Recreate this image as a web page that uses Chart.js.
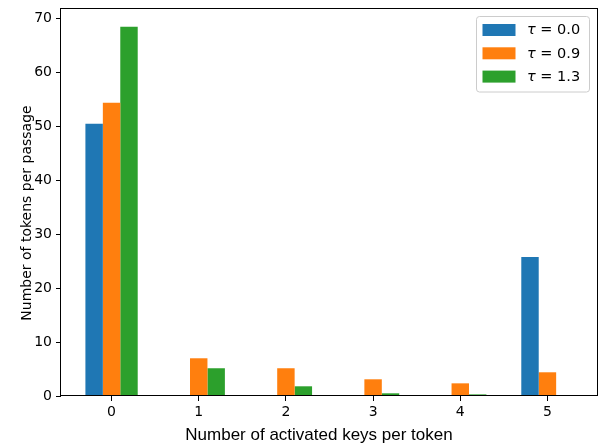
<!DOCTYPE html>
<html>
<head>
<meta charset="utf-8">
<style>
  html, body { margin: 0; padding: 0; background: #fff; }
  #wrap { width: 599px; height: 444px; position: relative; }
</style>
<script src="https://cdn.jsdelivr.net/npm/chart.js@4.4.1/dist/chart.umd.min.js"></script>
</head>
<body>
<div id="wrap"><canvas id="c" width="599" height="444"></canvas></div>
<script>
// Number of activated keys per token (x positions)
const categories = [0, 1, 2, 3, 4, 5];
// Tokens per passage for each temperature
const tau00 = [50.5, 0.15, 0.15, 0.15, 0.15, 25.8];
const tau09 = [54.4, 7.0, 5.15, 3.1, 2.35, 4.4];
const tau13 = [68.5, 5.15, 1.8, 0.5, 0.3, 0.12];
const seriesLabels = ['τ = 0.0', 'τ = 0.9', 'τ = 1.3'];
const seriesColors = ['#1f77b4', '#ff7f0e', '#2ca02c'];
const yTicks = [0, 10, 20, 30, 40, 50, 60, 70];
const xTitle = 'Number of activated keys per token';
const yTitle = 'Number of tokens per passage';

const tickFont = { family: 'DejaVu Sans', size: 14 };

function toPoints(vals) {
  return categories.map((c, i) => ({ x: c, y: vals[i] }));
}

// Frame around the plot area, the axis titles and a boxed legend
const framePlugin = {
  id: 'frame',
  afterDatasetsDraw(chart) {
    const { ctx, chartArea: a } = chart;
    ctx.save();
    ctx.strokeStyle = '#000';
    ctx.lineWidth = 1;
    ctx.strokeRect(Math.round(a.left) - 0.5, Math.round(a.top) + 0.5,
                   Math.round(a.right - a.left), Math.round(a.bottom - a.top) - 1);
    ctx.restore();
  },
  afterDraw(chart) {
    const { ctx, chartArea: a } = chart;
    ctx.save();
    // axis titles
    ctx.fillStyle = '#000';
    ctx.textAlign = 'center';
    ctx.textBaseline = 'alphabetic';
    ctx.font = '17px "Liberation Sans"';
    ctx.fillText(xTitle, 319, 440);
    ctx.save();
    ctx.translate(31, 213);
    ctx.rotate(-Math.PI / 2);
    ctx.font = '14px "DejaVu Sans"';
    ctx.fillText(yTitle, 0, 0);
    ctx.restore();

    // legend
    const boxW = 113, rowH = 23.3;
    const x0 = a.right - 8.5 - boxW, y0 = a.top + 8.5;
    const boxH = 75.5;
    ctx.fillStyle = 'rgba(255,255,255,0.8)';
    ctx.strokeStyle = '#cccccc';
    ctx.lineWidth = 1;
    ctx.beginPath();
    ctx.roundRect(x0, y0, boxW, boxH, 3);
    ctx.fill();
    ctx.stroke();
    ctx.textAlign = 'left';
    chart.data.datasets.forEach((ds, i) => {
      const cy = y0 + 13.5 + i * rowH;
      ctx.fillStyle = ds.backgroundColor;
      ctx.fillRect(x0 + 6, cy - 6, 33, 12);
      const lab = ds.label;
      ctx.fillStyle = '#000';
      ctx.textBaseline = 'middle';
      ctx.font = 'italic 14.5px "DejaVu Sans"';
      const tx = x0 + 50.5;
      ctx.fillText(lab[0], tx, cy + 0.5);
      const w = ctx.measureText(lab[0]).width;
      ctx.font = '14.5px "DejaVu Sans"';
      ctx.fillText(lab.slice(1), tx + w, cy + 0.5);
    });
    ctx.restore();
  }
};

new Chart(document.getElementById('c'), {
  type: 'bar',
  data: {
    datasets: [
      { label: seriesLabels[0], data: toPoints(tau00), backgroundColor: seriesColors[0] },
      { label: seriesLabels[1], data: toPoints(tau09), backgroundColor: seriesColors[1] },
      { label: seriesLabels[2], data: toPoints(tau13), backgroundColor: seriesColors[2] }
    ]
  },
  options: {
    responsive: false,
    animation: false,
    layout: { padding: { top: 8, right: 1, left: 0, bottom: 0 } },
    datasets: { bar: { categoryPercentage: 0.6, barPercentage: 1.0, borderWidth: 0 } },
    plugins: { legend: { display: false }, tooltip: { enabled: false } },
    scales: {
      x: {
        type: 'linear',
        offset: false,
        min: -0.58,
        max: 5.58,
        afterBuildTicks(scale) { scale.ticks = categories.map(v => ({ value: v })); },
        afterFit(scale) {
          scale.height = 48;
          scale.paddingLeft = 0; scale.paddingRight = 0;
        },
        grid: { offset: false, drawOnChartArea: false, drawTicks: true, tickLength: 5, color: '#000', lineWidth: 1 },
        border: { display: false },
        ticks: { font: tickFont, color: '#000', padding: 3, maxRotation: 0,
                 callback: v => String(v) },
        title: { display: false }
      },
      y: {
        min: 0,
        max: 72,
        afterBuildTicks(scale) { scale.ticks = yTicks.map(v => ({ value: v })); },
        afterFit(scale) {
          scale.width = 61;
          scale.paddingTop = 0; scale.paddingBottom = 0;
        },
        grid: { drawOnChartArea: false, drawTicks: true, tickLength: 5, color: '#000', lineWidth: 1 },
        border: { display: false },
        ticks: { font: tickFont, color: '#000', padding: 4 },
        title: { display: false }
      }
    }
  },
  plugins: [framePlugin]
});
</script>
</body>
</html>
